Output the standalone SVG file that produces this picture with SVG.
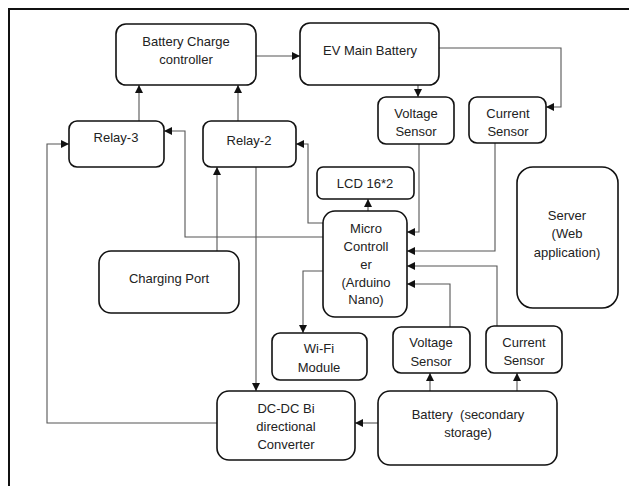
<svg xmlns="http://www.w3.org/2000/svg" width="629" height="486" viewBox="0 0 629 486">
<defs>
<marker id="ah" markerUnits="userSpaceOnUse" markerWidth="8" markerHeight="8" refX="8" refY="4" orient="auto">
<path d="M0,0 L8,4 L0,8 z" fill="#111"/>
</marker>
<style>
.box{fill:#fff;stroke:#111;stroke-width:1.6}
.t{font-family:"Liberation Sans",Arial,sans-serif;font-size:13px;fill:#222;text-anchor:middle}
.c{fill:none;stroke:#555;stroke-width:1.1}
.a{marker-end:url(#ah)}
</style>
</defs>
<rect width="629" height="486" fill="#fff"/>
<rect x="9" y="9" width="640" height="500" fill="none" stroke="#111" stroke-width="2"/>

<g id="connectors">
<path class="c a" d="M256,56 H300"/>
<path class="c a" d="M139,121 V85"/>
<path class="c a" d="M238,121 V85"/>
<path class="c a" d="M217,423 H47 V144 H69"/>
<path class="c a" d="M323,237 H185 V131 H164"/>
<path class="c a" d="M217,251 V167"/>
<path class="c a" d="M323,223 H308 V144 H296"/>
<path class="c a" d="M256,167 V391"/>
<path class="c a" d="M418,85 V97"/>
<path class="c a" d="M439,48 H561 V107 H546"/>
<path class="c a" d="M419,144 V232 H407"/>
<path class="c a" d="M495,143 V251 H407"/>
<path class="c a" d="M368,211 V199"/>
<path class="c a" d="M497,327 V266 H407"/>
<path class="c a" d="M450,327 V284 H407"/>
<path class="c a" d="M323,271 H303 V333"/>
<path class="c a" d="M430,391 V373"/>
<path class="c a" d="M517,391 V373"/>
<path class="c a" d="M378,423 H355"/>
</g>

<g id="bcc"><rect class="box" x="116" y="24" width="140" height="61" rx="10"/>
<text class="t" x="186" y="46">Battery Charge</text><text class="t" x="186" y="64">controller</text></g>

<g id="ev"><rect class="box" x="300" y="23" width="139" height="62" rx="10"/>
<text class="t" x="370" y="55">EV Main Battery</text></g>

<g id="relay3"><rect class="box" x="69" y="121" width="95" height="46" rx="8"/>
<text class="t" x="116" y="142">Relay-3</text></g>

<g id="relay2"><rect class="box" x="203" y="121" width="93" height="46" rx="8"/>
<text class="t" x="249" y="145">Relay-2</text></g>

<g id="vs1"><rect class="box" x="378" y="97" width="76" height="47" rx="8"/>
<text class="t" x="416" y="118">Voltage</text><text class="t" x="416" y="136">Sensor</text></g>

<g id="cs1"><rect class="box" x="469" y="97" width="77" height="46" rx="8"/>
<text class="t" x="508" y="118">Current</text><text class="t" x="508" y="136">Sensor</text></g>

<g id="lcd"><rect class="box" x="317" y="167" width="97" height="32" rx="6"/>
<text class="t" x="365" y="188">LCD 16*2</text></g>

<g id="micro"><rect class="box" x="323" y="211" width="84" height="106" rx="12"/>
<text class="t" x="366" y="233">Micro</text><text class="t" x="366" y="251">Controll</text><text class="t" x="366" y="269">er</text><text class="t" x="366" y="287">(Arduino</text><text class="t" x="366" y="304">Nano)</text></g>

<g id="server"><rect class="box" x="517" y="167" width="101" height="141" rx="16"/>
<text class="t" x="567" y="220">Server</text><text class="t" x="567" y="238">(Web</text><text class="t" x="567" y="257">application)</text></g>

<g id="charging"><rect class="box" x="99" y="251" width="140" height="62" rx="12"/>
<text class="t" x="169" y="283">Charging Port</text></g>

<g id="wifi"><rect class="box" x="272" y="333" width="95" height="47" rx="8"/>
<text class="t" x="319" y="353">Wi-Fi</text><text class="t" x="319" y="372">Module</text></g>

<g id="vs2"><rect class="box" x="393" y="327" width="77" height="46" rx="8"/>
<text class="t" x="431" y="347">Voltage</text><text class="t" x="431" y="366">Sensor</text></g>

<g id="cs2"><rect class="box" x="486" y="326" width="76" height="47" rx="8"/>
<text class="t" x="524" y="347">Current</text><text class="t" x="524" y="365">Sensor</text></g>

<g id="dcdc"><rect class="box" x="217" y="391" width="138" height="69" rx="12"/>
<text class="t" x="286" y="413">DC-DC Bi</text><text class="t" x="286" y="431">directional</text><text class="t" x="286" y="449">Converter</text></g>

<g id="battery2"><rect class="box" x="378" y="391" width="179" height="74" rx="12"/>
<text class="t" x="468" y="419" xml:space="preserve">Battery  (secondary</text><text class="t" x="468" y="437">storage)</text></g>
</svg>
